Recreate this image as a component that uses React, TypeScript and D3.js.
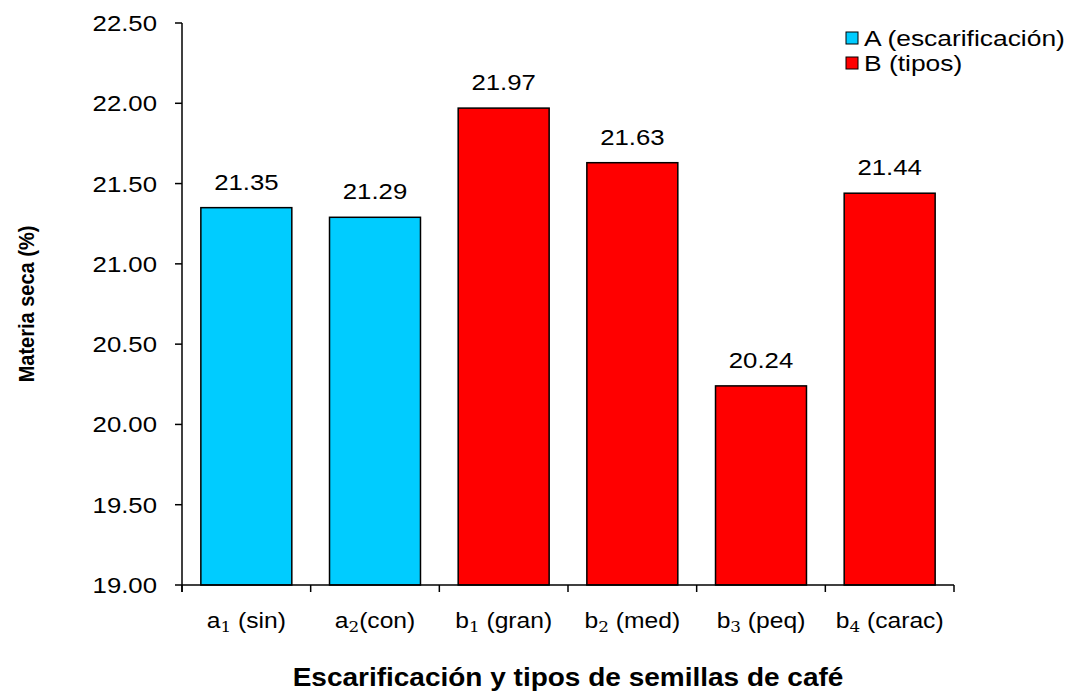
import React from "react";
import * as d3 from "d3";

const categories = ["a1", "a2", "b1", "b2", "b3", "b4"];
const labelMain = ["a", "a", "b", "b", "b", "b"];
const labelSub = ["1", "2", "1", "2", "3", "4"];
const labelRest = [" (sin)", "(con)", " (gran)", " (med)", " (peq)", " (carac)"];
const values = [21.35, 21.29, 21.97, 21.63, 20.24, 21.44];
const groups = ["A", "A", "B", "B", "B", "B"];
const yTicks = [19.0, 19.5, 20.0, 20.5, 21.0, 21.5, 22.0, 22.5];
const legendLabels = ["A (escarificación)", "B (tipos)"];
const legendKeys = ["A", "B"];

const colors: Record<string, string> = { A: "#00CCFF", B: "#FF0000" };

function T(props: { x: number; y: number; sx?: number; rotate?: number; children: React.ReactNode; [k: string]: any }) {
  const { x, y, sx = 1.12, rotate, children, ...rest } = props;
  return (
    <text transform={`translate(${x},${y}) scale(${sx},1)${rotate ? ` rotate(${rotate})` : ""}`} {...rest}>
      {children}
    </text>
  );
}

export default function App() {
  const W = 1075, H = 692;
  const left = 182, right = 954, top = 23, bottom = 585;
  const x = d3.scaleBand<string>().domain(categories).range([left, right]).paddingInner(0.293).paddingOuter(0.1465);
  const y = d3.scaleLinear().domain([19, 22.5]).range([bottom, top]);
  const font = "'Liberation Sans', Arial, sans-serif";
  const step = x.step();
  return (
    <svg width={W} height={H} style={{ position: "absolute", left: 0, top: 0 }} fontFamily={font}>
      <rect width={W} height={H} fill="#fff" />
      {categories.map((c, i) => (
        <rect key={c} x={x(c)} y={y(values[i])} width={x.bandwidth()} height={bottom - y(values[i])}
          fill={colors[groups[i]]} stroke="#000" strokeWidth={1.5} />
      ))}
      {categories.map((c, i) => (
        <T key={c} x={(x(c) as number) + x.bandwidth() / 2} y={y(values[i]) - 18} textAnchor="middle" fontSize={23}>
          {values[i].toFixed(2)}
        </T>
      ))}
      <line x1={left} x2={left} y1={top} y2={bottom + 7} stroke="#000" strokeWidth={1.5} />
      <line x1={left} x2={right} y1={bottom} y2={bottom} stroke="#000" strokeWidth={1.5} />
      {yTicks.map((t) => (
        <g key={t}>
          <line x1={left - 7} x2={left} y1={y(t)} y2={y(t)} stroke="#000" strokeWidth={1.5} />
          <T x={157} y={y(t) + 8} textAnchor="end" fontSize={23}>{t.toFixed(2)}</T>
        </g>
      ))}
      {d3.range(categories.length + 1).map((i) => (
        <line key={i} x1={left + i * step} x2={left + i * step} y1={bottom} y2={bottom + 7} stroke="#000" strokeWidth={1.5} />
      ))}
      {categories.map((c, i) => (
        <T key={c} x={(x(c) as number) + x.bandwidth() / 2} y={628} textAnchor="middle" fontSize={22}>
          {labelMain[i]}
          <tspan fontFamily="'DejaVu Serif', serif" fontSize={15} dy={4}>{labelSub[i]}</tspan>
          <tspan dy={-4}>{labelRest[i]}</tspan>
        </T>
      ))}
      <T x={568} y={686} textAnchor="middle" fontSize={25} fontWeight="bold">
        Escarificación y tipos de semillas de café
      </T>
      <T x={34} y={(top + bottom) / 2} rotate={-90} textAnchor="middle" fontSize={20} fontWeight="bold">
        Materia seca (%)
      </T>
      {legendKeys.map((k, i) => (
        <g key={k}>
          <rect x={846} y={32 + i * 25} width={12} height={12} fill={colors[k]} stroke="#000" strokeWidth={1} />
          <T x={864} y={46 + i * 25} sx={1.2} fontSize={22}>{legendLabels[i]}</T>
        </g>
      ))}
    </svg>
  );
}
